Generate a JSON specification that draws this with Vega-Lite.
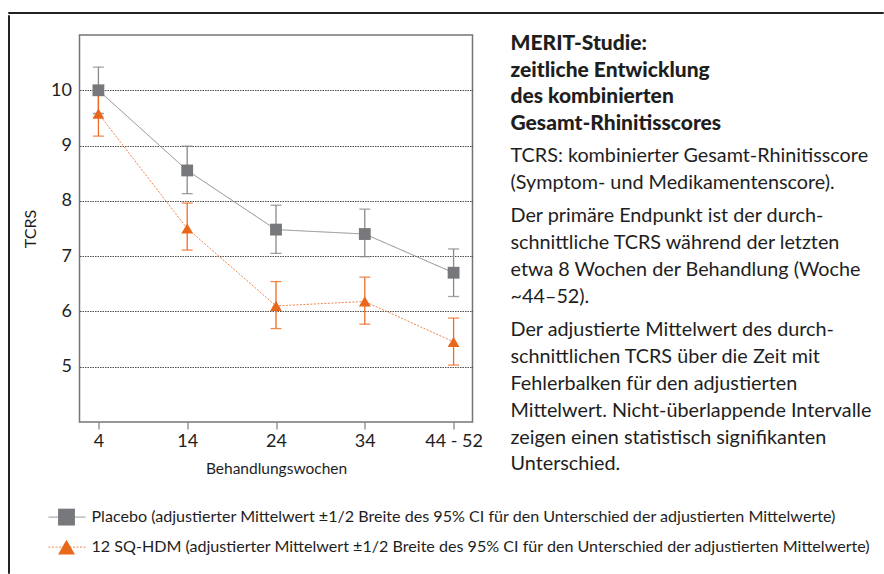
{
  "$schema": "https://vega.github.io/schema/vega-lite/v6.json",
  "background": "white",
  "padding": {"left": 7, "top": 11, "right": 0, "bottom": 0},
  "autosize": {"type": "pad"},
  "config": {
    "font": "Lato",
    "view": {"stroke": null},
    "legend": {"disable": true},
    "text": {"color": "#1e1e1e"},
    "axis": {"labelColor": "#1e1e1e", "titleColor": "#1e1e1e", "titleFontWeight": "normal"}
  },
  "datasets": {
    "tcrs": [
      {"week": "4", "series": "Placebo", "mean": 10.0, "lo": 9.58, "hi": 10.42},
      {"week": "14", "series": "Placebo", "mean": 8.55, "lo": 8.13, "hi": 8.99},
      {"week": "24", "series": "Placebo", "mean": 7.48, "lo": 7.05, "hi": 7.92},
      {"week": "34", "series": "Placebo", "mean": 7.40, "lo": 6.99, "hi": 7.85},
      {"week": "44 - 52", "series": "Placebo", "mean": 6.70, "lo": 6.27, "hi": 7.13},
      {"week": "4", "series": "12 SQ-HDM", "mean": 9.58, "lo": 9.17, "hi": 9.99},
      {"week": "14", "series": "12 SQ-HDM", "mean": 7.50, "lo": 7.11, "hi": 7.96},
      {"week": "24", "series": "12 SQ-HDM", "mean": 6.10, "lo": 5.69, "hi": 6.54},
      {"week": "34", "series": "12 SQ-HDM", "mean": 6.18, "lo": 5.77, "hi": 6.62},
      {"week": "44 - 52", "series": "12 SQ-HDM", "mean": 5.45, "lo": 5.03, "hi": 5.88}
    ],
    "legend": [
      {"series": "Placebo", "label": "Placebo (adjustierter Mittelwert ±1/2 Breite des 95% CI für den Unterschied der adjustierten Mittelwerte)"},
      {"series": "12 SQ-HDM", "label": "12 SQ-HDM (adjustierter Mittelwert ±1/2 Breite des 95% CI für den Unterschied der adjustierten Mittelwerte)"}
    ]
  },
  "spacing": 0,
  "vconcat": [
    {
      "width": 875, "height": 1,
      "view": {"stroke": "#222222", "strokeWidth": 1},
      "data": {"values": [{}]},
      "mark": {"type": "point", "size": 0, "opacity": 0},
      "encoding": {}
    },
    {
      "spacing": 11.5,
      "hconcat": [
        {
          "width": 1, "height": 558,
          "view": {"stroke": "#222222", "strokeWidth": 1},
          "data": {"values": [{}]},
          "mark": {"type": "point", "size": 0, "opacity": 0},
          "encoding": {}
        },
        {
          "spacing": 17,
          "vconcat": [
            {
              "width": 1, "height": 1,
              "data": {"values": [{}]},
              "mark": {"type": "point", "size": 0, "opacity": 0},
              "encoding": {}
            },
            {
              "spacing": 27,
              "hconcat": [
                {
                  "width": 393, "height": 387,
                  "view": {"stroke": "#767676", "strokeWidth": 1.5},
                  "data": {"name": "tcrs"},
                  "encoding": {
                    "x": {
                      "field": "week", "type": "ordinal",
                      "sort": ["4", "14", "24", "34", "44 - 52"],
                      "scale": {"type": "point", "padding": 0.213},
                      "axis": {
                        "title": "Behandlungswochen", "labelAngle": 0, "labelFontSize": 18,
                        "labelPadding": 3, "tickSize": 7, "tickColor": "#666666", "tickWidth": 1,
                        "domain": false, "grid": false, "titleFontSize": 15.5, "titlePadding": 11
                      }
                    }
                  },
                  "layer": [
                    {
                      "mark": {"type": "line", "strokeWidth": 1},
                      "encoding": {
                        "y": {
                          "field": "mean", "type": "quantitative",
                          "scale": {"domain": [4, 11], "nice": false, "zero": false},
                          "axis": {
                            "title": "TCRS", "values": [5, 6, 7, 8, 9, 10], "format": "d", "grid": true,
                            "gridColor": "#222222", "gridDash": [1.5, 1], "gridWidth": 0.8,
                            "ticks": false, "domain": false, "labelFontSize": 18, "labelPadding": 8,
                            "titleFontSize": 16, "titlePadding": 12
                          }
                        },
                        "stroke": {"field": "series", "type": "nominal", "scale": {"domain": ["Placebo", "12 SQ-HDM"], "range": ["#8a8a8a", "#f0844a"]}, "legend": null},
                        "strokeDash": {"field": "series", "type": "nominal", "scale": {"domain": ["Placebo", "12 SQ-HDM"], "range": [[1, 0], [2, 1.5]]}, "legend": null}
                      }
                    },
                    {
                      "mark": {"type": "rule", "strokeWidth": 1.3},
                      "encoding": {
                        "y": {"field": "lo", "type": "quantitative"},
                        "y2": {"field": "hi"},
                        "color": {"field": "series", "type": "nominal", "scale": {"domain": ["Placebo", "12 SQ-HDM"], "range": ["#8a8a8a", "#ec6d25"]}, "legend": null}
                      }
                    },
                    {
                      "mark": {"type": "tick", "size": 11, "thickness": 1.3, "opacity": 0.8},
                      "encoding": {
                        "y": {"field": "lo", "type": "quantitative"},
                        "color": {"field": "series", "type": "nominal", "legend": null}
                      }
                    },
                    {
                      "mark": {"type": "tick", "size": 11, "thickness": 1.3, "opacity": 0.8},
                      "encoding": {
                        "y": {"field": "hi", "type": "quantitative"},
                        "color": {"field": "series", "type": "nominal", "legend": null}
                      }
                    },
                    {
                      "mark": {"type": "point", "filled": true, "opacity": 1, "size": 140, "strokeWidth": 0},
                      "encoding": {
                        "y": {"field": "mean", "type": "quantitative"},
                        "shape": {"field": "series", "type": "nominal", "scale": {"domain": ["Placebo", "12 SQ-HDM"], "range": ["square", "triangle-up"]}, "legend": null},
                        "fill": {"field": "series", "type": "nominal", "scale": {"domain": ["Placebo", "12 SQ-HDM"], "range": ["#77787c", "#e8671b"]}, "legend": null}
                      }
                    }
                  ]
                },
                {
                  "spacing": 4,
                  "vconcat": [
                    {
                      "width": 10, "height": {"step": 26.5},
                      "data": {"values": [
                        {"i": 1, "t": "MERIT-Studie:"},
                        {"i": 2, "t": "zeitliche Entwicklung"},
                        {"i": 3, "t": "des kombinierten"},
                        {"i": 4, "t": "Gesamt-Rhinitisscores"}
                      ]},
                      "mark": {"type": "text", "align": "left", "baseline": "alphabetic", "dy": 2, "fontSize": 21, "fontWeight": 900},
                      "encoding": {
                        "x": {"value": 0},
                        "y": {"field": "i", "type": "ordinal", "axis": null},
                        "text": {"field": "t"}
                      }
                    },
                    {
                      "width": 10, "height": {"step": 26.9},
                      "data": {"values": [
                        {"i": 1, "t": "TCRS: kombinierter Gesamt-Rhinitisscore"},
                        {"i": 2, "t": "(Symptom- und Medikamentenscore)."}
                      ]},
                      "mark": {"type": "text", "align": "left", "baseline": "alphabetic", "dy": 1.5, "fontSize": 19.8},
                      "encoding": {
                        "x": {"value": 0},
                        "y": {"field": "i", "type": "ordinal", "axis": null},
                        "text": {"field": "t"}
                      }
                    },
                    {
                      "width": 10, "height": {"step": 26.9},
                      "data": {"values": [
                        {"i": 1, "t": "Der primäre Endpunkt ist der durch-"},
                        {"i": 2, "t": "schnittliche TCRS während der letzten"},
                        {"i": 3, "t": "etwa 8 Wochen der Behandlung (Woche"},
                        {"i": 4, "t": "~44–52)."}
                      ]},
                      "mark": {"type": "text", "align": "left", "baseline": "alphabetic", "dy": 1.5, "fontSize": 19.8},
                      "encoding": {
                        "x": {"value": 0},
                        "y": {"field": "i", "type": "ordinal", "axis": null},
                        "text": {"field": "t"}
                      }
                    },
                    {
                      "width": 10, "height": {"step": 26.9},
                      "data": {"values": [
                        {"i": 1, "t": "Der adjustierte Mittelwert des durch-"},
                        {"i": 2, "t": "schnittlichen TCRS über die Zeit mit"},
                        {"i": 3, "t": "Fehlerbalken für den adjustierten"},
                        {"i": 4, "t": "Mittelwert. Nicht-überlappende Intervalle"},
                        {"i": 5, "t": "zeigen einen statistisch signifikanten"},
                        {"i": 6, "t": "Unterschied."}
                      ]},
                      "mark": {"type": "text", "align": "left", "baseline": "alphabetic", "dy": 1.5, "fontSize": 19.8},
                      "encoding": {
                        "x": {"value": 0},
                        "y": {"field": "i", "type": "ordinal", "axis": null},
                        "text": {"field": "t"}
                      }
                    }
                  ]
                }
              ]
            },
            {
              "width": 780, "height": 60,
              "data": {"name": "legend"},
              "encoding": {
                "y": {"field": "series", "type": "nominal", "sort": ["Placebo", "12 SQ-HDM"], "scale": {"type": "point", "padding": 0.5, "align": 0.57}, "axis": null}
              },
              "layer": [
                {
                  "mark": {"type": "rule", "strokeWidth": 1},
                  "encoding": {
                    "x": {"datum": -31, "type": "quantitative", "scale": {"domain": [0, 780], "nice": false}, "axis": null},
                    "x2": {"datum": 6},
                    "stroke": {"field": "series", "type": "nominal", "scale": {"domain": ["Placebo", "12 SQ-HDM"], "range": ["#8a8a8a", "#f0844a"]}, "legend": null},
                    "strokeDash": {"field": "series", "type": "nominal", "scale": {"domain": ["Placebo", "12 SQ-HDM"], "range": [[1, 0], [2, 1.5]]}, "legend": null}
                  }
                },
                {
                  "mark": {"type": "point", "filled": true, "opacity": 1, "size": 285, "strokeWidth": 0},
                  "encoding": {
                    "x": {"datum": -13, "type": "quantitative"},
                    "shape": {"field": "series", "type": "nominal", "scale": {"domain": ["Placebo", "12 SQ-HDM"], "range": ["square", "triangle-up"]}, "legend": null},
                    "fill": {"field": "series", "type": "nominal", "scale": {"domain": ["Placebo", "12 SQ-HDM"], "range": ["#77787c", "#e8671b"]}, "legend": null}
                  }
                },
                {
                  "mark": {"type": "text", "align": "left", "baseline": "middle", "fontSize": 16.1},
                  "encoding": {
                    "x": {"datum": 12, "type": "quantitative"},
                    "text": {"field": "label"}
                  }
                }
              ]
            }
          ]
        }
      ]
    }
  ]
}
